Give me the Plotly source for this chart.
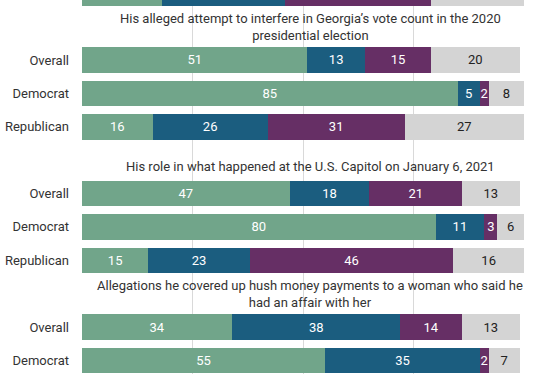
import plotly.graph_objects as go

# ---- data ----
group_titles = [
    None,  # previous group, cut off above
    "His alleged attempt to interfere in Georgia\u2019s vote count in the 2020<br>presidential election",
    "His role in what happened at the U.S. Capitol on January 6, 2021",
    "Allegations he covered up hush money payments to a woman who said he<br>had an affair with her",
]
group_rows = [
    ["Republican"],
    ["Overall", "Democrat", "Republican"],
    ["Overall", "Democrat", "Republican"],
    ["Overall", "Democrat"],
]
series_names = ["Very serious", "Somewhat serious", "Not too serious", "Not sure"]
green_vals = [18, 51, 85, 16, 47, 80, 15, 34, 55]
blue_vals = [28, 13, 5, 26, 18, 11, 23, 38, 35]
purple_vals = [33, 15, 2, 31, 21, 3, 46, 14, 2]
grey_vals = [21, 20, 8, 27, 13, 6, 16, 13, 7]

colors = ["#71a58a", "#1b5d7f", "#662f65", "#d4d4d4"]
text_colors = ["white", "white", "white", "#222222"]

# ---- layout of slots (title rows occupy a slot) ----
row_pos, row_lab, title_pos = [], [], []
slot = 0
for gi, (t, rows) in enumerate(zip(group_titles, group_rows)):
    if t is not None:
        title_pos.append((slot, t))
        slot += 1
    for r in rows:
        row_pos.append(slot)
        row_lab.append(r)
        slot += 1

fig = go.Figure()
for name, vals, c, tc in zip(series_names, [green_vals, blue_vals, purple_vals, grey_vals], colors, text_colors):
    fig.add_trace(go.Bar(
        y=row_pos, x=vals, orientation="h", name=name,
        marker=dict(color=c, line=dict(width=0)),
        width=0.764,
        text=[str(v) for v in vals], textposition="inside",
        insidetextanchor="middle", textangle=0,
        textfont=dict(color=tc, size=13, family="Roboto"),
        hoverinfo="skip", cliponaxis=True,
    ))

for pos, t in title_pos:
    single = "<br>" not in t
    fig.add_annotation(
        x=51.6, y=pos + (0.2 if single else 0), xref="x", yref="y", text=t, showarrow=False,
        font=dict(family="Roboto", size=13, color="#333333"),
        xanchor="center", yanchor="middle", align="center",
    )

fig.update_layout(
    barmode="stack",
    width=552, height=374,
    margin=dict(l=82, r=28, t=0, b=0, pad=0),
    paper_bgcolor="white", plot_bgcolor="white",
    showlegend=False,
    uniformtext=dict(minsize=13, mode="show"),
    font=dict(family="Roboto", color="#333333"),
    xaxis=dict(range=[0, 100], tickvals=[0, 25, 50, 75, 100], showticklabels=False,
               showgrid=True, gridcolor="#d9d9d9", gridwidth=1, zeroline=False,
               showline=False, fixedrange=True, automargin=False),
    yaxis=dict(range=[11.405, 0.204], tickvals=row_pos, ticktext=row_lab,
               showgrid=False, zeroline=False, showline=False,
               tickfont=dict(family="Roboto", size=13, color="#333333"),
               ticklabelstandoff=12, fixedrange=True, automargin=False),
)

fig.write_html(
    "out.html",
    config={"displayModeBar": False},
    post_script="document.body.style.margin='0';document.body.style.overflow='hidden';",
)
